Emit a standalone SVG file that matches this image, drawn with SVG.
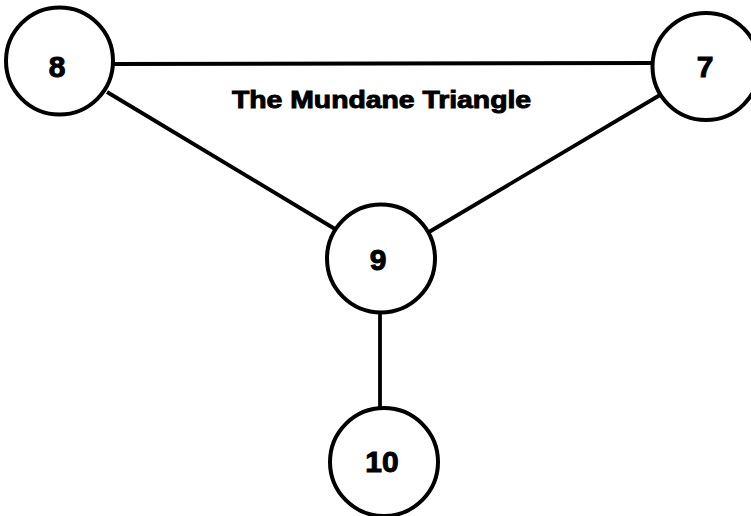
<svg xmlns="http://www.w3.org/2000/svg" width="751" height="516" viewBox="0 0 751 516">
<style>
.n{fill:#fff;stroke:#000;stroke-width:4}
.e{stroke:#000;stroke-width:3.8;fill:none;stroke-linecap:butt}
.t{font-family:"Liberation Sans",Arial,sans-serif;font-weight:bold;font-size:30px;text-anchor:middle;fill:#000;stroke:#000;stroke-width:1}
.title{font-family:"Liberation Sans",Arial,sans-serif;font-weight:bold;font-size:23px;fill:#000;stroke:#000;stroke-width:0.9}
</style>
<rect width="751" height="516" fill="#fff"/>
<g id="connectors">
<line class="e" x1="112" y1="64" x2="653" y2="63"/>
<line class="e" x1="107" y1="92" x2="335" y2="229"/>
<line class="e" x1="660" y1="95" x2="429" y2="232"/>
<line class="e" x1="380" y1="312" x2="380" y2="408"/>
</g>
<text class="title" transform="translate(232,108) scale(1.233,1)" x="0" y="0">The Mundane Triangle</text>
<g id="node8"><circle class="n" cx="59.5" cy="61" r="53.5"/><text class="t" x="57" y="77">8</text></g>
<g id="node7"><circle class="n" cx="706" cy="66.5" r="53.5"/><text class="t" x="705" y="77">7</text></g>
<g id="node9"><circle class="n" cx="381" cy="258.5" r="54"/><text class="t" x="378" y="270">9</text></g>
<g id="node10"><circle class="n" cx="384" cy="462" r="54"/><text class="t" x="382" y="472">10</text></g>
</svg>
